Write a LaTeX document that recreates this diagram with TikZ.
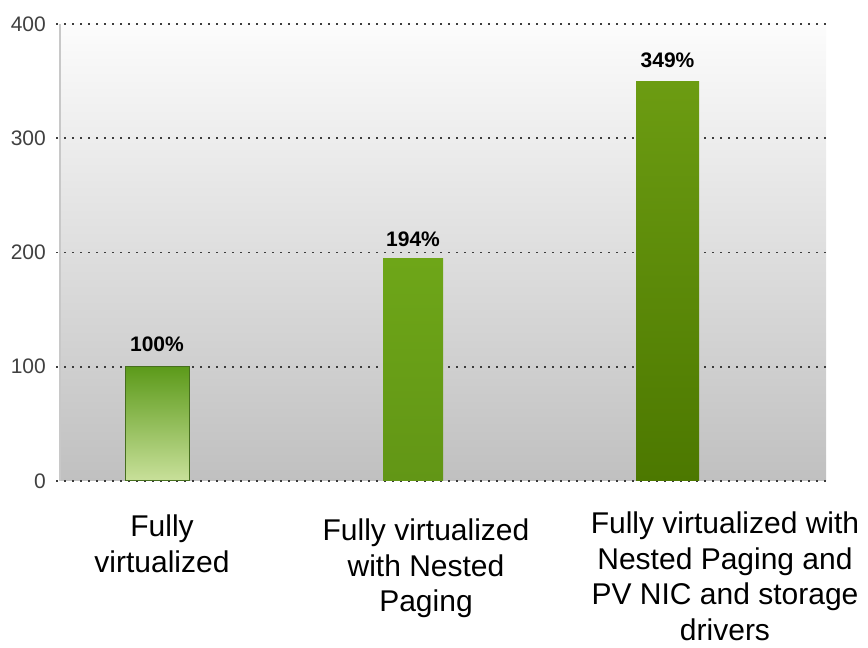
\documentclass[tikz,border=0pt]{standalone}
\usepackage{fontspec}
\setmainfont{Liberation Sans}
\usepackage{xcolor}
\usetikzlibrary{positioning}

\definecolor{plotTop}{RGB}{252,252,252}
\definecolor{plotBottom}{RGB}{192,192,192}
\definecolor{gridDots}{RGB}{60,60,60}
\definecolor{axisGray}{RGB}{200,200,200}
\definecolor{barEdge}{RGB}{70,110,30}
\definecolor{barOneTop}{RGB}{92,154,26}
\definecolor{barOneBottom}{RGB}{200,224,154}
\definecolor{barTwoTop}{RGB}{110,166,24}
\definecolor{barTwoBottom}{RGB}{98,150,22}
\definecolor{barThreeTop}{RGB}{108,156,18}
\definecolor{barThreeBottom}{RGB}{76,120,0}

\tikzset{
  gridline/.style={gridDots, line width=1.6pt, dash pattern=on 1.6pt off 6.4pt},
  ticklabel/.style={anchor=east, inner sep=1pt, text=black!75, font=\fontsize{21}{21}\selectfont},
  pctlabel/.style={inner sep=1pt, font=\bfseries\fontsize{21}{21}\selectfont},
  catlabel/.style={anchor=north, align=center, inner sep=0pt, font=\fontsize{30}{35.5}\selectfont},
  barbox/.style={anchor=south, inner sep=0pt, draw=barEdge, line width=0.8pt}
}

\begin{document}
\begin{tikzpicture}[x=1pt,y=1pt]
  \useasboundingbox (0,0) rectangle (868,648);

  % plot area, white at the top to gray at the bottom
  \shade[top color=plotTop, bottom color=plotBottom] (60,167) rectangle (826,624);
  \draw[axisGray, line width=1.5pt] (60,167) -- (60,624);

  % grid lines and tick labels
  \foreach \val in {0,100,200,300,400}{
    \coordinate (g\val) at (56,167+1.1425*\val);
    \draw[gridline] (g\val) -- ++(770,0);
    \node[ticklabel] (t\val) at (47,167+1.1425*\val) {\val};
  }

  % bars
  \node[barbox, minimum width=64, minimum height=114,
        top color=barOneTop, bottom color=barOneBottom] (bar1) at (157,167) {};
  \node[barbox, minimum width=60, minimum height=222, draw=none,
        top color=barTwoTop, bottom color=barTwoBottom] (bar2) at (413,167) {};
  \node[barbox, minimum width=63, minimum height=399, draw=none,
        top color=barThreeTop, bottom color=barThreeBottom] (bar3) at (667.5,167) {};

  % values above the bars
  \node[pctlabel, above=13pt of bar1] (p1) {100\%};
  \node[pctlabel, above=10pt of bar2] (p2) {194\%};
  \node[pctlabel, above=12pt of bar3] (p3) {349\%};

  % category names
  \node[catlabel] (c1) at (162,133) {Fully\\virtualized};
  \node[catlabel] (c2) at (426,129) {Fully virtualized\\with Nested\\Paging};
  \node[catlabel] (c3) at (725,136) {Fully virtualized with\\Nested Paging and\\PV NIC and storage\\drivers};
\end{tikzpicture}
\end{document}
